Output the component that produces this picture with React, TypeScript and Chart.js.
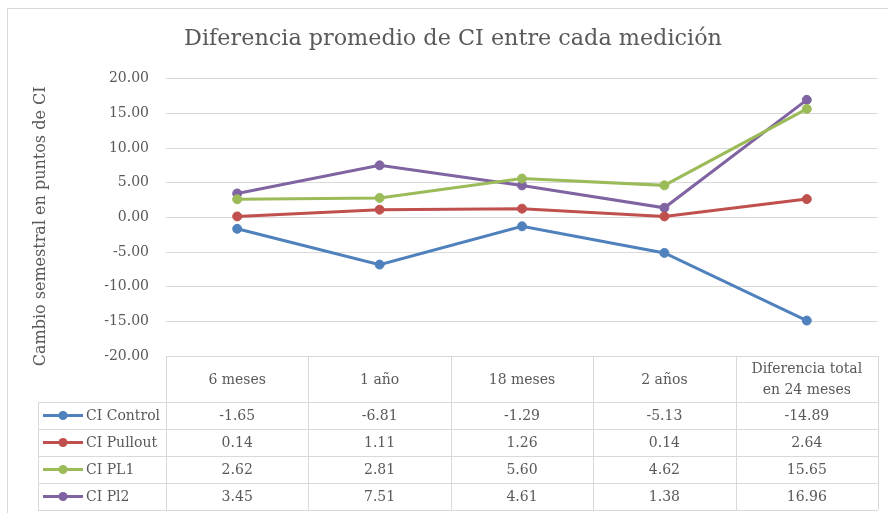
import React, { useEffect, useRef } from "react";
import { Chart, registerables } from "chart.js";

Chart.register(...registerables);

const categories: string[][] = [["6 meses"], ["1 año"], ["18 meses"], ["2 años"], ["Diferencia total", "en 24 meses"]];
const seriesNames = ["CI Control", "CI Pullout", "CI PL1", "CI Pl2"];
const ciControl = [-1.65, -6.81, -1.29, -5.13, -14.89];
const ciPullout = [0.14, 1.11, 1.26, 0.14, 2.64];
const ciPL1 = [2.62, 2.81, 5.6, 4.62, 15.65];
const ciPl2 = [3.45, 7.51, 4.61, 1.38, 16.96];
const seriesColors = ["#4F81BD", "#C0504D", "#9BBB59", "#8064A2"];
const yMin = -20;
const yMax = 20;
const yStep = 5;
const yTitle = "Cambio semestral en puntos de CI";

const FONT = "'DejaVu Serif', serif";
const TEXT = "#595959";
const LINE = "#D9D9D9";

const tablePlugin = {
  id: "dataTable",
  afterDraw(chart: any) {
    const ctx = chart.ctx;
    const x = chart.scales.x;
    const area = chart.chartArea;
    const n = categories.length;
    const colW = x.getPixelForValue(1) - x.getPixelForValue(0);
    const top = area.bottom;
    const headH = 46;
    const rowH = 27;
    const legLeft = 38;
    const rows = [ciControl, ciPullout, ciPL1, ciPl2];
    const bottom = top + headH + rowH * rows.length;
    ctx.save();
    // outer border
    ctx.strokeStyle = LINE;
    ctx.lineWidth = 1;
    ctx.strokeRect(7.5, 8.5, chart.width + 20, chart.height + 20);
    // y axis title
    ctx.save();
    ctx.translate(41, (area.top + area.bottom) / 2 + 9);
    ctx.rotate(-Math.PI / 2);
    ctx.fillStyle = TEXT;
    ctx.font = `16px ${FONT}`;
    ctx.textAlign = "center";
    ctx.textBaseline = "middle";
    ctx.fillText(yTitle, 0, 0);
    ctx.restore();
    // grid lines of table
    ctx.beginPath();
    const hx = (v: number) => Math.round(v) + 0.5;
    ctx.moveTo(area.left, hx(top));
    ctx.lineTo(area.right, hx(top));
    for (let r = 0; r <= rows.length; r++) {
      const y = hx(top + headH + r * rowH);
      ctx.moveTo(legLeft, y);
      ctx.lineTo(area.right, y);
    }
    for (let i = 0; i <= n; i++) {
      const xx = hx(x.getPixelForValue(i) - colW / 2);
      ctx.moveTo(xx, top);
      ctx.lineTo(xx, bottom);
    }
    ctx.moveTo(hx(legLeft), top + headH);
    ctx.lineTo(hx(legLeft), bottom);
    ctx.stroke();

    ctx.fillStyle = TEXT;
    ctx.font = `14px ${FONT}`;
    ctx.textAlign = "center";
    ctx.textBaseline = "middle";
    categories.forEach((lines, i) => {
      const cx = x.getPixelForValue(i);
      const cy = top + headH / 2 + 1;
      const lh = 21;
      lines.forEach((t, k) => {
        ctx.fillText(t, cx, cy + (k - (lines.length - 1) / 2) * lh);
      });
    });
    rows.forEach((vals, r) => {
      const cy = top + headH + r * rowH + rowH / 2 + 1;
      vals.forEach((v, i) => {
        ctx.fillStyle = TEXT;
        ctx.textAlign = "center";
        ctx.fillText(v.toFixed(2), x.getPixelForValue(i), cy);
      });
      // legend key
      const c = seriesColors[r];
      ctx.strokeStyle = c;
      ctx.lineWidth = 3;
      ctx.beginPath();
      ctx.moveTo(43, cy - 1);
      ctx.lineTo(83, cy - 1);
      ctx.stroke();
      ctx.fillStyle = c;
      ctx.beginPath();
      ctx.arc(63, cy - 1, 4.5, 0, Math.PI * 2);
      ctx.fill();
      ctx.fillStyle = TEXT;
      ctx.textAlign = "left";
      ctx.fillText(seriesNames[r], 86, cy);
    });
    ctx.restore();
  },
};

export default function App() {
  const ref = useRef<HTMLCanvasElement>(null);
  useEffect(() => {
    if (!ref.current) return;
    const data = [ciControl, ciPullout, ciPL1, ciPl2];
    const chart = new Chart(ref.current, {
      type: "line",
      data: {
        labels: categories.map((c) => c.join(" ")),
        datasets: data.map((d, i) => ({
          label: seriesNames[i],
          data: d,
          borderColor: seriesColors[i],
          backgroundColor: seriesColors[i],
          pointBackgroundColor: seriesColors[i],
          pointBorderColor: seriesColors[i],
          borderWidth: 3,
          pointRadius: 4.5,
          pointBorderWidth: 1,
          tension: 0,
        })),
      },
      options: {
        responsive: true,
        maintainAspectRatio: false,
        animation: false,
        layout: { padding: { left: 28, right: 10, top: 0, bottom: 157 } },
        plugins: {
          legend: { display: false },
          tooltip: { enabled: false },
          title: {
            display: true,
            text: "Diferencia promedio de CI entre cada medición",
            color: TEXT,
            font: { family: FONT, size: 22.3, weight: "normal" },
            padding: { top: 26, bottom: 26 },
          },
        },
        scales: {
          x: {
            display: false,
            offset: true,
          },
          y: {
            min: yMin,
            max: yMax,
            afterFit: (s: any) => {
              s.width = 138;
            },
            ticks: {
              stepSize: yStep,
              color: TEXT,
              padding: 17,
              font: { family: FONT, size: 14 },
              callback: (v: any) => Number(v).toFixed(2),
            },
            grid: { color: LINE, drawTicks: false, lineWidth: 1 },
            border: { display: false },
          },
        },
      },
      plugins: [tablePlugin],
    });
    return () => chart.destroy();
  }, []);
  return (
    <div style={{ position: "fixed", left: 0, top: 0, width: 888, height: 513, background: "#fff" }}>
      <canvas ref={ref} />
    </div>
  );
}
